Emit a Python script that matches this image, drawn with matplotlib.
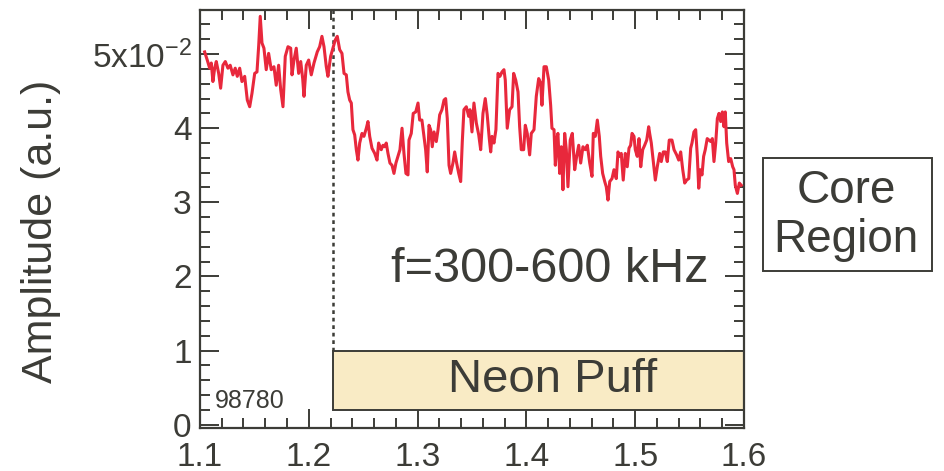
import matplotlib
matplotlib.use("Agg")
import matplotlib.pyplot as plt
from matplotlib.patches import Rectangle
from matplotlib.ticker import MultipleLocator

plt.rcParams['font.family'] = ['Liberation Sans', 'DejaVu Sans']
plt.rcParams['mathtext.fontset'] = 'custom'
plt.rcParams['mathtext.rm'] = 'Liberation Sans'
plt.rcParams['mathtext.it'] = 'Liberation Sans:italic'

# data (amplitude in units of 1e-2)
time_s = [
    1.1043, 1.1067, 1.1089, 1.1104, 1.1119, 1.1135, 1.1150, 1.1172, 1.1190, 1.1211,
    1.1233, 1.1257, 1.1278, 1.1303, 1.1324, 1.1343, 1.1365, 1.1386, 1.1411, 1.1435,
    1.1457, 1.1478, 1.1503, 1.1524, 1.1540, 1.1554, 1.1570, 1.1588, 1.1609, 1.1631,
    1.1655, 1.1680, 1.1701, 1.1723, 1.1742, 1.1763, 1.1784, 1.1809, 1.1834, 1.1846,
    1.1864, 1.1885, 1.1907, 1.1926, 1.1944, 1.1956, 1.1977, 1.1999, 1.2023, 1.2048,
    1.2078, 1.2100, 1.2121, 1.2140, 1.2161, 1.2176, 1.2201, 1.2222, 1.2243, 1.2262,
    1.2284, 1.2305, 1.2324, 1.2345, 1.2360, 1.2376, 1.2391, 1.2406, 1.2422, 1.2437,
    1.2452, 1.2468, 1.2489, 1.2507, 1.2529, 1.2544, 1.2560, 1.2581, 1.2606, 1.2627,
    1.2642, 1.2666, 1.2682, 1.2698, 1.2712, 1.2728, 1.2746, 1.2765, 1.2783, 1.2801,
    1.2820, 1.2838, 1.2857, 1.2875, 1.2893, 1.2912, 1.2921, 1.2942, 1.2960, 1.2983,
    1.3004, 1.3019, 1.3040, 1.3059, 1.3074, 1.3089, 1.3105, 1.3120, 1.3135, 1.3151,
    1.3172, 1.3188, 1.3203, 1.3224, 1.3243, 1.3258, 1.3273, 1.3289, 1.3304, 1.3325,
    1.3341, 1.3359, 1.3378, 1.3396, 1.3411, 1.3426, 1.3448, 1.3470, 1.3482, 1.3500,
    1.3518, 1.3540, 1.3562, 1.3580, 1.3601, 1.3622, 1.3640, 1.3659, 1.3672, 1.3684,
    1.3702, 1.3720, 1.3739, 1.3757, 1.3776, 1.3794, 1.3806, 1.3824, 1.3846, 1.3868,
    1.3883, 1.3902, 1.3923, 1.3938, 1.3953, 1.3975, 1.3990, 1.4008, 1.4030, 1.4045,
    1.4070, 1.4091, 1.4113, 1.4131, 1.4143, 1.4162, 1.4183, 1.4205, 1.4223, 1.4235,
    1.4254, 1.4266, 1.4284, 1.4290, 1.4306, 1.4321, 1.4336, 1.4352, 1.4367, 1.4382,
    1.4403, 1.4422, 1.4444, 1.4462, 1.4481, 1.4499, 1.4520, 1.4541, 1.4560, 1.4582,
    1.4603, 1.4615, 1.4633, 1.4652, 1.4670, 1.4683, 1.4701, 1.4720, 1.4734, 1.4750,
    1.4766, 1.4787, 1.4805, 1.4826, 1.4842, 1.4857, 1.4872, 1.4890, 1.4909, 1.4927,
    1.4943, 1.4958, 1.4971, 1.4989, 1.5001, 1.5019, 1.5035, 1.5051, 1.5069, 1.5087,
    1.5106, 1.5124, 1.5133, 1.5148, 1.5166, 1.5185, 1.5203, 1.5225, 1.5240, 1.5258,
    1.5277, 1.5295, 1.5313, 1.5338, 1.5357, 1.5381, 1.5400, 1.5418, 1.5437, 1.5455,
    1.5473, 1.5492, 1.5510, 1.5522, 1.5540, 1.5556, 1.5571, 1.5584, 1.5598, 1.5614,
    1.5629, 1.5644, 1.5662, 1.5678, 1.5694, 1.5709, 1.5724, 1.5740, 1.5755, 1.5770,
    1.5786, 1.5801, 1.5816, 1.5828, 1.5841, 1.5859, 1.5878, 1.5896, 1.5908, 1.5920,
    1.5939, 1.5957, 1.5975,
]
amplitude = [
    5.03, 4.92, 4.81, 4.88, 4.63, 4.81, 4.90, 4.74, 4.54, 4.85,
    4.90, 4.81, 4.85, 4.72, 4.81, 4.70, 4.81, 4.63, 4.70, 4.38,
    4.29, 4.47, 4.74, 4.76, 5.12, 5.51, 5.15, 5.08, 4.79, 5.01,
    4.79, 4.83, 4.58, 4.85, 4.52, 4.29, 4.97, 5.10, 5.08, 4.72,
    4.92, 5.08, 4.74, 4.90, 4.67, 4.43, 4.85, 4.92, 4.72, 4.88,
    5.03, 5.10, 5.24, 5.10, 4.83, 4.70, 4.97, 5.08, 5.19, 5.24,
    5.06, 5.01, 4.74, 4.72, 4.49, 4.38, 4.34, 3.98, 3.91, 3.71,
    3.57, 3.80, 3.93, 3.89, 4.00, 4.09, 3.89, 3.73, 3.66, 3.57,
    3.80, 3.71, 3.77, 3.75, 3.80, 3.66, 3.53, 3.50, 3.39, 3.53,
    3.62, 3.71, 4.00, 3.66, 3.39, 3.37, 3.84, 3.93, 4.20, 4.22,
    4.34, 4.11, 4.11, 3.89, 3.71, 3.41, 4.04, 3.98, 3.75, 3.95,
    3.82, 3.98, 4.18, 4.25, 4.38, 4.40, 4.13, 3.50, 3.39, 3.53,
    3.68, 3.53, 3.39, 3.28, 3.82, 4.25, 4.29, 4.16, 4.25, 3.95,
    4.34, 4.07, 3.91, 3.71, 4.20, 4.40, 4.18, 3.86, 3.68, 3.89,
    3.80, 3.98, 4.74, 4.70, 4.76, 4.79, 4.65, 4.00, 4.25, 4.29,
    4.74, 4.65, 4.49, 4.02, 3.71, 3.71, 4.04, 3.93, 3.64, 3.93,
    3.98, 4.43, 4.67, 4.61, 4.31, 4.83, 4.83, 4.65, 4.31, 4.00,
    3.98, 3.50, 3.89, 3.93, 3.39, 3.75, 3.17, 3.93, 3.71, 3.21,
    3.84, 3.93, 3.44, 3.62, 3.77, 3.53, 3.75, 3.71, 3.77, 3.53,
    3.35, 3.93, 3.89, 4.11, 3.89, 3.62, 3.39, 3.28, 3.21, 3.03,
    3.28, 3.32, 3.44, 3.32, 3.68, 3.62, 3.66, 3.30, 3.66, 3.48,
    3.73, 3.77, 3.93, 3.89, 3.71, 3.62, 3.86, 3.48, 3.71, 3.77,
    3.84, 4.02, 3.93, 3.80, 3.55, 3.30, 3.48, 3.66, 3.55, 3.68,
    3.68, 3.55, 3.84, 3.84, 3.71, 3.64, 3.57, 3.68, 3.44, 3.26,
    3.30, 3.32, 3.73, 3.80, 3.95, 3.98, 3.62, 3.19, 3.44, 3.37,
    3.62, 3.71, 3.86, 3.84, 3.82, 3.86, 3.55, 3.80, 4.13, 4.20,
    4.09, 4.22, 4.02, 4.22, 3.80, 3.55, 3.59, 3.48, 3.44, 3.23,
    3.12, 3.26, 3.23,
]
puff_start = 1.222
puff_box = (0.2, 1.0)
yticks = [0, 1, 2, 3, 4, 5]
ytick_labels = ['0', '1', '2', '3', '4', '5x10$^{-2}$']
xticks = [1.1, 1.2, 1.3, 1.4, 1.5, 1.6]
xtick_labels = ['1.1', '1.2', '1.3', '1.4', '1.5', '1.6']

ink = '#3c3c37'
red = '#e8283c'

fig = plt.figure(figsize=(9.45, 4.71), dpi=100)
ax = fig.add_axes([0.2116, 0.0919, 0.5757, 0.8879])

ax.plot(time_s, amplitude, color=red, lw=2.2, zorder=3,
        solid_joinstyle='round')

# neon puff marker
ax.plot([puff_start, puff_start], [puff_box[1], 5.602], color=ink, lw=1.8,
        linestyle=(0, (1.5, 1.5)), zorder=2)
ax.add_patch(Rectangle((puff_start, puff_box[0]), 1.6 - puff_start,
                       puff_box[1] - puff_box[0], facecolor='#f9ebc5',
                       edgecolor=ink, lw=1.4, zorder=2))
ax.text(1.4245, 0.44, 'Neon Puff', fontsize=34, color=ink, ha='center',
        va='baseline', zorder=4)
ax.text(1.4217, 1.92, 'f=300-600 kHz', fontsize=35, color=ink, ha='center',
        va='baseline')
ax.text(1.1138, 0.22, '98780', fontsize=18, color=ink, ha='left', va='baseline')

ax.set_xlim(1.1, 1.6)
ax.set_ylim(-0.042, 5.602)
ax.set_xticks(xticks)
ax.set_xticklabels(xtick_labels)
ax.set_yticks(yticks)
ax.set_yticklabels(ytick_labels)
ax.xaxis.set_minor_locator(MultipleLocator(0.02))
ax.yaxis.set_minor_locator(MultipleLocator(0.2))
ax.tick_params(which='both', direction='in', top=True, right=True,
               color=ink, width=1.4, labelcolor=ink, labelsize=24)
ax.tick_params(which='major', length=14)
ax.tick_params(which='minor', length=7)
ax.tick_params(axis='x', pad=10)
ax.tick_params(axis='y', pad=6)
for s in ax.spines.values():
    s.set_color(ink)
    s.set_linewidth(1.6)

ax.set_ylabel('Amplitude (a.u.)', fontsize=31, color=ink)
ax.yaxis.set_label_coords(-0.255, 0.47)

# side label
fig.patches.append(Rectangle((763 / 945, 1 - 271 / 471), 169 / 945, 113 / 471,
                             transform=fig.transFigure, fill=False,
                             edgecolor=ink, lw=1.4))
fig.text(846 / 945, 1 - 203 / 471, 'Core', fontsize=33, color=ink,
         ha='center', va='baseline')
fig.text(846 / 945, 1 - 252 / 471, 'Region', fontsize=33, color=ink,
         ha='center', va='baseline')

fig.savefig('out.png', dpi=100)
